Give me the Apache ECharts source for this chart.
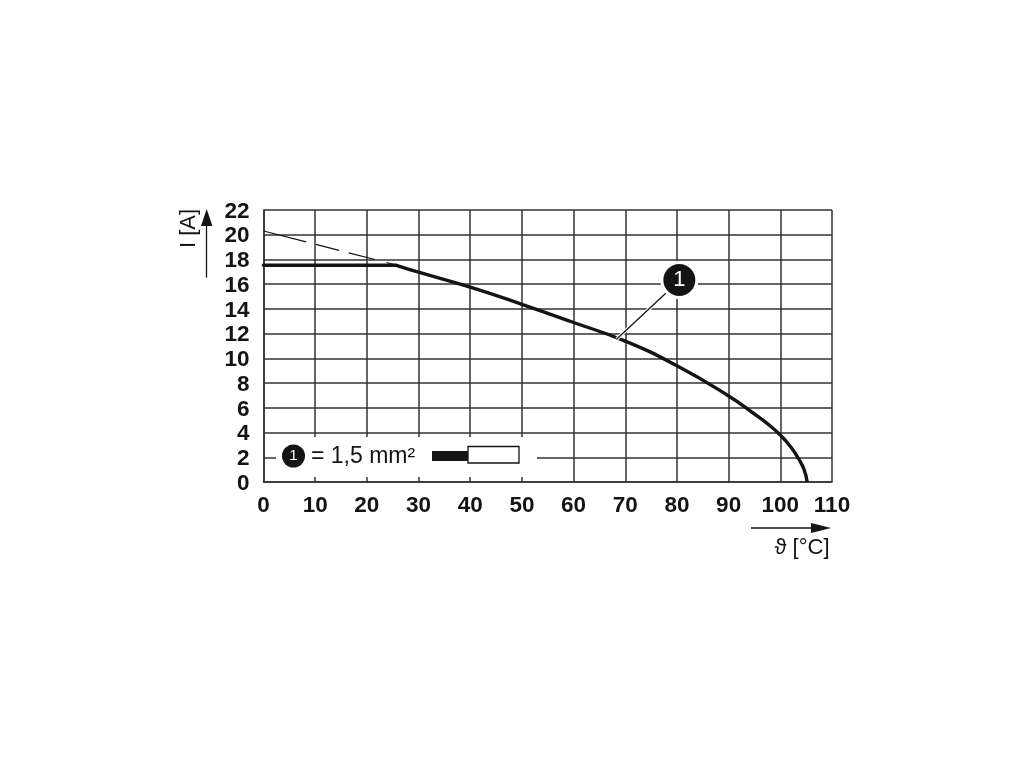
<!DOCTYPE html>
<html>
<head>
<meta charset="utf-8">
<style>
  html, body { margin: 0; padding: 0; background: #fff; }
  #chart { width: 1020px; height: 765px; }
</style>
<script src="https://cdn.jsdelivr.net/npm/echarts@6/dist/echarts.min.js"></script>
</head>
<body>
<div id="chart"></div>
<script>
const chart = echarts.init(document.getElementById("chart"));

// data: [temperature in C, current in A]
const flatPart = [[0, 17.53], [25.7, 17.53]];
const deratingCurve = [
  [25.7, 17.53], [30, 16.97], [40, 15.76], [50, 14.37], [60, 12.9], [70, 11.39],
  [80, 9.4], [90, 6.96], [95, 5.5], [97.5, 4.72], [100, 3.8], [102, 2.85],
  [103.5, 1.9], [104.6, 1], [105.2, 0]
];
const dashedLine = [[0, 20.3], [25.7, 17.55]];
const leaderLine = [[68.3, 11.55], [78.2, 15.4]];
const calloutPoint = [[80.46, 16.34]];
const calloutLabel = "1";
const legendText = "= 1,5 mm²";
const xAxisTitle = "ϑ [°C]";
const yAxisTitle = "I [A]";

const FONT = '"Liberation Sans", Arial, sans-serif';
const INK = "#141414";
const GRID = "#333333";

chart.setOption({
  animation: false,
  backgroundColor: "#ffffff",
  grid: { left: 263.5, right: 188, top: 210, bottom: 283 },

  xAxis: {
    type: "value",
    min: 0,
    max: 110,
    interval: 10,
    axisLine: { show: true, onZero: false, lineStyle: { color: GRID, width: 1.5 } },
    axisTick: { show: false },
    axisLabel: { color: INK, fontFamily: FONT, fontWeight: "bold", fontSize: 22.5, margin: 12 },
    splitLine: { show: true, lineStyle: { color: GRID, width: 1.5 } }
  },

  yAxis: {
    type: "value",
    min: 0,
    max: 22,
    interval: 2,
    axisLine: { show: true, onZero: false, lineStyle: { color: GRID, width: 1.5 } },
    axisTick: { show: false },
    axisLabel: {
      color: INK, fontFamily: FONT, fontWeight: "bold", fontSize: 22.5, margin: 14,
      verticalAlign: "top", lineHeight: 3
    },
    splitLine: { show: true, lineStyle: { color: GRID, width: 1.5 } }
  },

  series: [
    {
      type: "line",
      data: dashedLine,
      symbol: "none",
      z: 3,
      lineStyle: { color: INK, width: 1.2, type: [44, 10, 24, 10, 27, 12, 14, 0] }
    },
    {
      type: "line",
      data: flatPart,
      symbol: "none",
      z: 4,
      lineStyle: { color: INK, width: 3.4, cap: "round" }
    },
    {
      type: "line",
      data: deratingCurve,
      symbol: "none",
      smooth: 0.5,
      z: 4,
      lineStyle: { color: INK, width: 3.4 }
    },
    {
      type: "line",
      data: leaderLine,
      symbol: "none",
      z: 5,
      lineStyle: { color: "#ffffff", width: 3.5 }
    },
    {
      type: "line",
      data: leaderLine,
      symbol: "none",
      z: 6,
      lineStyle: { color: INK, width: 1.3 }
    },
    {
      type: "scatter",
      data: calloutPoint,
      symbolSize: 35,
      z: 7,
      itemStyle: { color: INK, opacity: 1, borderColor: "#ffffff", borderWidth: 3 },
      label: {
        show: true,
        position: "inside",
        formatter: calloutLabel,
        color: "#ffffff",
        fontFamily: FONT,
        fontSize: 22
      }
    }
  ],

  // legend box, axis arrows and axis titles sit outside the scales
  graphic: [
    { type: "rect", shape: { x: 276, y: 437, width: 261, height: 40 }, style: { fill: "#ffffff" }, z: 10 },
    { type: "circle", shape: { cx: 293.5, cy: 456, r: 11.5 }, style: { fill: INK }, z: 11 },
    {
      type: "text", x: 293.5, y: 456, z: 12,
      style: { text: calloutLabel, fill: "#ffffff", font: "15px " + FONT, align: "center", verticalAlign: "middle" }
    },
    {
      type: "text", x: 311, y: 457, z: 11,
      style: { text: legendText, fill: INK, font: "23px " + FONT, align: "left", verticalAlign: "middle" }
    },
    { type: "rect", shape: { x: 432, y: 451, width: 36, height: 10 }, style: { fill: INK }, z: 11 },
    {
      type: "rect", shape: { x: 468, y: 446.5, width: 51, height: 16.5 }, z: 11,
      style: { fill: "#ffffff", stroke: INK, lineWidth: 1.3 }
    },

    { type: "line", shape: { x1: 206.5, y1: 277.5, x2: 206.5, y2: 222 }, style: { stroke: INK, lineWidth: 1.3 } },
    { type: "polygon", shape: { points: [[206.7, 209], [201, 226], [212.4, 226]] }, style: { fill: INK } },
    {
      type: "text", x: 188.5, y: 228.5, rotation: Math.PI / 2, z: 5,
      style: { text: yAxisTitle, fill: INK, font: "22px " + FONT, align: "center", verticalAlign: "middle" }
    },

    { type: "line", shape: { x1: 751, y1: 528, x2: 815, y2: 528 }, style: { stroke: INK, lineWidth: 1.3 } },
    { type: "polygon", shape: { points: [[831, 528], [811, 523], [811, 533]] }, style: { fill: INK } },
    {
      type: "text", x: 829.5, y: 548, z: 5,
      style: { text: xAxisTitle, fill: INK, font: "22px " + FONT, align: "right", verticalAlign: "middle" }
    }
  ]
});
</script>
</body>
</html>
